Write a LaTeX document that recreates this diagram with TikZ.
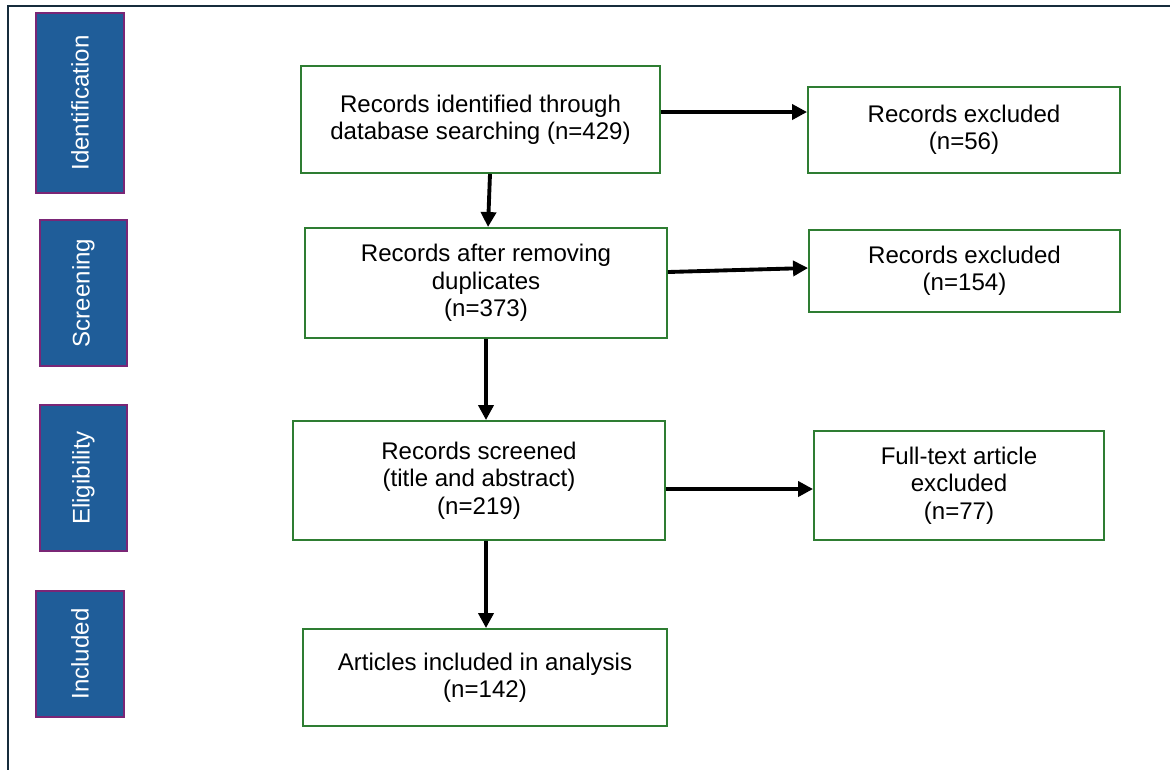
\documentclass[tikz,border=0pt]{standalone}
\usepackage{fontspec}
\setmainfont{Liberation Sans}
\usetikzlibrary{arrows.meta,positioning,calc}
\definecolor{stageblue}{RGB}{31,93,153}
\definecolor{stagepurple}{RGB}{122,38,118}
\definecolor{boxgreen}{RGB}{46,125,50}
\definecolor{framenavy}{RGB}{22,44,60}

\tikzset{
  stage/.style={draw=stagepurple, fill=stageblue, line width=1.1pt, rotate=90,
                text=white, align=center, inner sep=0pt},
  flowbox/.style={draw=boxgreen, fill=white, line width=1.1pt, align=center, inner sep=2pt},
  arr/.style={-{Triangle[length=0.3cm,width=0.3cm]}, line width=2.2pt, black}
}

\begin{document}
\begin{tikzpicture}[x=0.02cm, y=-0.02cm, font=\fontsize{13.7}{15.6}\selectfont]
    \useasboundingbox (0,0) rectangle (1170,769);
    \clip (0,0) rectangle (1170,769);
    \draw[framenavy, line width=1.6pt] (8,6) rectangle (1180,780);

    % stage labels
    \node[stage, minimum width=3.6cm, minimum height=1.76cm] (ident) at (80,103) {Identification};
    \node[stage, minimum width=2.92cm, minimum height=1.74cm] (screen) at (83.5,293) {Screening};
    \node[stage, minimum width=2.92cm, minimum height=1.74cm] (elig) at (83.5,478) {Eligibility};
    \node[stage, minimum width=2.52cm, minimum height=1.76cm] (incl) at (80,654) {Included};

    % main column
    \node[flowbox, minimum width=7.18cm, minimum height=2.14cm] (recs) at (480.5,119.5)
         {Records identified through\\database searching (n=429)};
    \node[flowbox, minimum width=7.24cm, minimum height=2.2cm] (dedup) at (486,283)
         {Records after removing\\duplicates\\(n=373)};
    \node[flowbox, minimum width=7.44cm, minimum height=2.38cm] (screened) at (479,480.5)
         {Records screened\\(title and abstract)\\(n=219)};
    \node[flowbox, minimum width=7.28cm, minimum height=1.94cm] (included) at (485,677.5)
         {Articles included in analysis\\(n=142)};

    % exclusions
    \node[flowbox, minimum width=6.24cm, minimum height=1.72cm] (excl1) at (964,130)
         {Records excluded\\(n=56)};
    \node[flowbox, minimum width=6.22cm, minimum height=1.64cm] (excl2) at (964.5,271)
         {Records excluded\\(n=154)};
    \node[flowbox, minimum width=5.8cm, minimum height=2.18cm] (excl3) at (959,485.5)
         {Full-text article\\excluded\\(n=77)};

    % arrows
    \coordinate (a1) at ([yshift=0.15cm]recs.east);
    \coordinate (a3) at ([yshift=-0.17cm]screened.east);
    \draw[arr] (a1) -- (excl1.west |- a1);
    \draw[arr] ([yshift=0.22cm]dedup.east) -- ([yshift=0.06cm]excl2.west);
    \draw[arr] (a3) -- (excl3.west |- a3);

    \draw[arr] ([xshift=0.19cm]recs.south) -- ([xshift=0.04cm]dedup.north);
    \draw[arr] (dedup.south) -- ([xshift=0.14cm]screened.north);
    \draw[arr] ([xshift=0.14cm]screened.south) -- ([xshift=0.02cm]included.north);
\end{tikzpicture}
\end{document}
